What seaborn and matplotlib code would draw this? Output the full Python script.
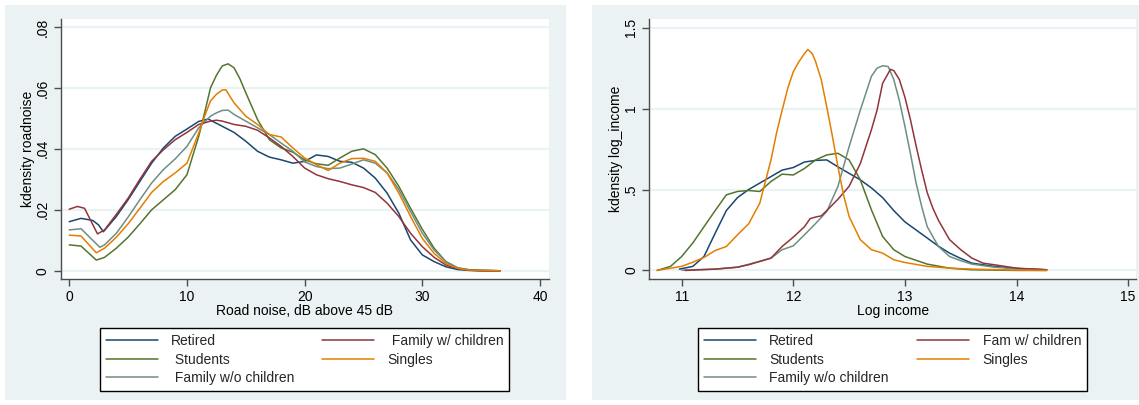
import numpy as np
import pandas as pd
import matplotlib
matplotlib.use("Agg")
import matplotlib.pyplot as plt
from matplotlib.patches import Rectangle
import seaborn as sns

sns.set_theme(style="white")
plt.rcParams["font.family"] = ["Liberation Sans", "DejaVu Sans"]

# ---------------- road noise densities ----------------
noise_retired_x = [0, 1, 2, 2.5, 2.9, 4, 5, 6, 7, 8, 9, 10, 11, 11.8, 13, 14, 15, 16, 17, 18, 19, 20,
                   21, 22, 23, 24, 25, 26, 27, 28, 29, 30, 31, 32, 33, 34, 35, 36.6]
noise_retired_y = [.0161, .0172, .0165, .0150, .0128, .0178, .0233, .0293, .0353, .0403, .0441, .0465,
                   .0490, .0498, .0474, .0454, .0425, .0392, .0373, .0364, .0353, .0359, .0380, .0375,
                   .0359, .0356, .0337, .0304, .0255, .0189, .0101, .0052, .0030, .0013, .0004, .0001,
                   0, 0]

noise_famkids_x = [0, 0.7, 1.3, 2.4, 3, 4, 5, 6, 7, 8, 9, 10, 11, 12, 12.5, 13, 14, 15, 16, 17, 18,
                   19, 20, 21, 22, 23, 24, 25, 26, 27, 28, 29, 30, 31, 32, 33, 34, 35, 36.6]
noise_famkids_y = [.0202, .0211, .0205, .0121, .0134, .0185, .0238, .0300, .0359, .0397, .0430, .0454,
                   .0480, .0491, .0494, .0491, .0480, .0474, .0461, .0436, .0408, .0375, .0337, .0315,
                   .0302, .0293, .0282, .0273, .0257, .0222, .0178, .0123, .0079, .0044, .0019, .0007,
                   .0002, 0, 0]

noise_students_x = [0, 1, 2.3, 3, 4, 5, 6, 7, 8, 9, 10, 11, 11.5, 12, 12.5, 13, 13.5, 14, 14.5, 15,
                    15.5, 16, 17, 18, 19, 20, 21, 22, 23, 24, 25, 26, 27, 28, 29, 30, 31, 32, 33, 34,
                    36.6]
noise_students_y = [.0085, .0081, .0035, .0044, .0074, .0110, .0154, .0200, .0233, .0266, .0315, .0441,
                    .0518, .0600, .0641, .0672, .0679, .0666, .0630, .0584, .0540, .0496, .0430, .0403,
                    .0389, .0364, .0351, .0346, .0370, .0392, .0400, .0381, .0337, .0277, .0205, .0136,
                    .0074, .0030, .0009, .0003, 0]

noise_singles_x = [0, 1, 2.3, 3, 4, 5, 6, 7, 8, 9, 10, 11, 11.5, 12, 12.5, 13, 13.3, 14, 14.5, 15, 16,
                   17, 18, 19, 20, 21, 22, 23, 24, 25, 26, 27, 28, 29, 30, 31, 32, 33, 34, 36.6]
noise_singles_y = [.0117, .0114, .0059, .0074, .0110, .0154, .0205, .0257, .0293, .0321, .0353, .0452,
                   .0507, .0557, .0579, .0593, .0594, .0551, .0529, .0507, .0480, .0447, .0439, .0403,
                   .0370, .0348, .0329, .0353, .0368, .0369, .0359, .0321, .0255, .0178, .0106, .0057,
                   .0024, .0008, .0002, 0]

noise_famnokids_x = [0, 1, 2.6, 3, 4, 5, 6, 7, 8, 9, 10, 11, 11.5, 12, 12.5, 13, 13.5, 14, 15, 16, 17,
                     18, 19, 20, 21, 22, 23, 24, 25, 26, 27, 28, 29, 30, 31, 32, 33, 34, 36.6]
noise_famnokids_y = [.0134, .0138, .0077, .0085, .0123, .0176, .0233, .0288, .0332, .0367, .0408, .0469,
                     .0488, .0507, .0518, .0526, .0527, .0513, .0491, .0469, .0447, .0419, .0392, .0357,
                     .0342, .0335, .0337, .0350, .0364, .0353, .0321, .0266, .0194, .0123, .0068, .0030,
                     .0010, .0003, 0]

# ---------------- log income densities ----------------
inc_retired_x = [10.98, 11.1, 11.2, 11.3, 11.4, 11.5, 11.6, 11.7, 11.8, 11.9, 12.0, 12.1, 12.2, 12.3,
                 12.4, 12.5, 12.6, 12.7, 12.8, 12.9, 13.0, 13.1, 13.2, 13.3, 13.4, 13.5, 13.6, 13.8,
                 14.0, 14.27]
inc_retired_y = [.008, .025, .086, .23, .37, .45, .50, .54, .58, .62, .636, .67, .68, .683, .64, .60,
                 .56, .51, .45, .37, .30, .25, .20, .15, .107, .074, .045, .025, .012, .004]

inc_famkids_x = [11.03, 11.3, 11.5, 11.6, 11.7, 11.8, 11.9, 12.0, 12.1, 12.15, 12.2, 12.25, 12.3, 12.4,
                 12.5, 12.6, 12.65, 12.7, 12.75, 12.8, 12.87, 12.9, 12.95, 13.0, 13.05, 13.1, 13.15,
                 13.2, 13.25, 13.3, 13.4, 13.5, 13.6, 13.7, 13.8, 14.0, 14.27]
inc_famkids_y = [0, .008, .02, .035, .056, .076, .148, .206, .27, .32, .33, .337, .37, .44, .52, .66,
                 .765, .87, .99, 1.156, 1.243, 1.235, 1.18, 1.07, .93, .77, .62, .48, .385, .31, .19,
                 .128, .076, .045, .035, .014, .004]

inc_students_x = [10.78, 10.9, 11.0, 11.1, 11.2, 11.3, 11.4, 11.5, 11.6, 11.7, 11.8, 11.9, 12.0, 12.1,
                  12.2, 12.3, 12.4, 12.5, 12.6, 12.7, 12.8, 12.9, 13.0, 13.2, 13.4, 13.6, 14.0, 14.27]
inc_students_y = [0, .025, .086, .17, .27, .37, .467, .488, .494, .488, .55, .595, .59, .63, .683, .714,
                  .724, .683, .56, .374, .21, .128, .086, .039, .014, .004, 0, 0]

inc_singles_x = [10.78, 11.0, 11.1, 11.2, 11.3, 11.4, 11.5, 11.6, 11.7, 11.75, 11.8, 11.85, 11.9,
                 11.95, 12.0, 12.05, 12.1, 12.13, 12.17, 12.2, 12.25, 12.3, 12.35, 12.4, 12.45, 12.5,
                 12.6, 12.7, 12.8, 12.9, 13.0, 13.2, 13.4, 13.6, 14.0, 14.27]
inc_singles_y = [0, .025, .051, .08, .123, .148, .22, .288, .416, .55, .683, .85, .99, 1.125, 1.228,
                 1.29, 1.34, 1.366, 1.34, 1.29, 1.18, 1.01, .83, .64, .467, .333, .19, .128, .107,
                 .066, .049, .025, .014, .008, .002, 0]

inc_famnokids_x = [11.0, 11.3, 11.5, 11.7, 11.8, 11.9, 12.0, 12.1, 12.2, 12.3, 12.4, 12.5, 12.6, 12.65,
                   12.7, 12.75, 12.8, 12.85, 12.9, 12.95, 13.0, 13.05, 13.1, 13.15, 13.2, 13.3, 13.4,
                   13.5, 13.6, 13.8, 14.0, 14.27]
inc_famnokids_y = [.002, .008, .02, .056, .076, .128, .152, .22, .29, .364, .52, .765, .99, 1.095, 1.20,
                   1.25, 1.265, 1.26, 1.18, 1.05, .89, .72, .54, .395, .27, .148, .086, .06, .039, .02,
                   .01, .004]

groups = ["Retired", "Students", "Family w/o children", "Family w/ children", "Singles"]
palette = {
    "Retired": "#1a476f",
    "Family w/ children": "#90353b",
    "Students": "#55752f",
    "Singles": "#e37e00",
    "Family w/o children": "#6e8e84",
}

noise_series = {
    "Retired": (noise_retired_x, noise_retired_y),
    "Family w/ children": (noise_famkids_x, noise_famkids_y),
    "Students": (noise_students_x, noise_students_y),
    "Singles": (noise_singles_x, noise_singles_y),
    "Family w/o children": (noise_famnokids_x, noise_famnokids_y),
}
income_series = {
    "Retired": (inc_retired_x, inc_retired_y),
    "Family w/ children": (inc_famkids_x, inc_famkids_y),
    "Students": (inc_students_x, inc_students_y),
    "Singles": (inc_singles_x, inc_singles_y),
    "Family w/o children": (inc_famnokids_x, inc_famnokids_y),
}


def to_frame(series):
    rows = []
    for name, (xs, ys) in series.items():
        for a, b in zip(xs, ys):
            rows.append({"group": name, "x": a, "y": b})
    return pd.DataFrame(rows)


W, H = 1139, 405
fig = plt.figure(figsize=(W / 100, H / 100), dpi=100, facecolor="white")

BG = "#eaf2f3"
# panel backgrounds (pixel boxes -> figure fractions), kept behind the axes
for x0, x1 in [(5, 566), (592, 1139)]:
    fig.patches.append(Rectangle((x0 / W, 1 - 400 / H), (x1 - x0) / W, (400 - 5) / H,
                                 transform=fig.transFigure, facecolor=BG, edgecolor="none",
                                 zorder=-10))


def px_axes(x0, x1, y0, y1):
    return fig.add_axes([x0 / W, 1 - y1 / H, (x1 - x0) / W, (y1 - y0) / H])


ax1 = px_axes(61, 549, 19, 279)
ax2 = px_axes(649.3, 1136, 19, 279)

AXCOL = "#4d4d4d"


def style_axes(ax, xlim, ylim, xticks, yticks, yticklabels, xlabel, ylabel):
    ax.set_facecolor("white")
    ax.set_xlim(*xlim)
    ax.set_ylim(*ylim)
    ax.set_xticks(xticks)
    ax.set_xticklabels([str(t) for t in xticks])
    ax.set_yticks(yticks)
    ax.set_yticklabels(yticklabels, rotation=90, va="center")
    for s in ["top", "right"]:
        ax.spines[s].set_visible(False)
    for s in ["left", "bottom"]:
        ax.spines[s].set_color(AXCOL)
        ax.spines[s].set_linewidth(1.0)
    ax.tick_params(axis="both", which="major", direction="out", length=5, width=1.0,
                   color=AXCOL, labelsize=10, labelcolor="black", pad=3,
                   bottom=True, left=True)
    ax.grid(False)
    for t in yticks:
        ax.axhline(t, color=BG, lw=1.6, zorder=0.5)
    ax.set_xlabel(xlabel, fontsize=10, labelpad=0, color="black")
    ax.set_ylabel(ylabel, fontsize=10, labelpad=0.5, color="black")


def draw(ax, series, labels, bbox):
    df = to_frame(series)
    sns.lineplot(data=df, x="x", y="y", hue="group", hue_order=groups, palette=palette,
                 sort=False, estimator=None, units="group", lw=1.1, ax=ax, legend=True, zorder=3)
    handles, names = ax.get_legend_handles_labels()
    lookup = dict(zip(names, handles))
    ax.legend([lookup[g] for g in groups], [labels[g] for g in groups], ncol=2,
              loc="lower left", bbox_to_anchor=bbox, bbox_transform=fig.transFigure,
              mode="expand", borderaxespad=0, frameon=True, fancybox=False, shadow=False,
              edgecolor="black", facecolor="white", framealpha=1, fontsize=10,
              handlelength=3.75, handletextpad=0.95, labelspacing=0.33, borderpad=0.42,
              columnspacing=1.5)
    ax.get_legend().get_frame().set_linewidth(1.0)


def bbox_px(x0, x1, y0, y1):
    return (x0 / W, 1 - y1 / H, (x1 - x0) / W, (y1 - y0) / H)


noise_labels = {"Retired": "Retired", "Students": " Students",
                "Family w/o children": " Family w/o children",
                "Family w/ children": " Family w/ children", "Singles": "Singles"}
income_labels = {"Retired": "Retired", "Students": "Students",
                 "Family w/o children": "Family w/o children",
                 "Family w/ children": "Fam w/ children", "Singles": "Singles"}

draw(ax1, noise_series, noise_labels, bbox_px(100, 509, 325, 391))
draw(ax2, income_series, income_labels, bbox_px(698, 1087, 325, 391))

style_axes(ax1, (-0.70, 40.76), (-0.0027, 0.0826), [0, 10, 20, 30, 40],
           [0, .02, .04, .06, .08], ["0", ".02", ".04", ".06", ".08"],
           "Road noise, dB above 45 dB", "kdensity roadnoise")
style_axes(ax2, (10.71, 15.07), (-0.053, 1.554), [11, 12, 13, 14, 15],
           [0, .5, 1, 1.5], ["0", ".5", "1", "1.5"],
           "Log income", "kdensity log_income")

fig.savefig("out.png", dpi=100, facecolor=fig.get_facecolor())
